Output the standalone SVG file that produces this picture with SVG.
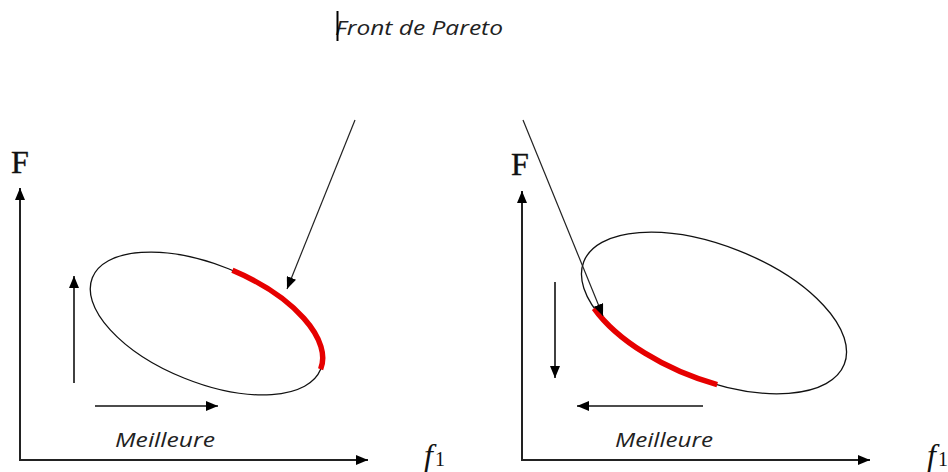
<svg xmlns="http://www.w3.org/2000/svg" width="948" height="472" viewBox="0 0 948 472">
<defs>
<marker id="ah" viewBox="0 0 12 10" refX="12" refY="5" markerWidth="12" markerHeight="10" markerUnits="userSpaceOnUse" orient="auto">
<path d="M0,0 L12,5 L0,10 Z" fill="#000"/>
</marker>
<style>
.ax{stroke:#222;stroke-width:2;fill:none}
.ar{stroke:#111;stroke-width:1.6;fill:none}
.ptr{stroke:#222;stroke-width:1.2;fill:none}
.ell{stroke:#111;stroke-width:1.3;fill:none}
.red{stroke:#e60000;stroke-width:5.5;fill:none;stroke-linecap:butt}
.lbl{font-family:"Open Sans","Liberation Sans",sans-serif;font-style:italic;font-size:20px;fill:#222}
.F{font-family:"Liberation Serif","DejaVu Serif",serif;font-size:32px;fill:#111;stroke:#111;stroke-width:0.4}
.f{font-family:"Liberation Serif","DejaVu Serif",serif;font-style:italic;font-size:32px;fill:#111}
.sub{font-family:"Liberation Serif","DejaVu Serif",serif;font-style:normal;font-size:20px;fill:#111}
</style>
</defs>
<rect width="948" height="472" fill="#fff"/>

<g id="title">
<text class="lbl" x="335" y="35" textLength="168" lengthAdjust="spacingAndGlyphs">Front de Pareto</text>
<line x1="337.5" y1="11" x2="337.5" y2="41" stroke="#000" stroke-width="2"/>
</g>

<g id="left-chart">
<g id="left-ellipse">
<ellipse class="ell" cx="206.5" cy="323.5" rx="123" ry="59" transform="rotate(21.85 206.5 323.5)"/>
<path class="red" d="M232.4 270.3 A123 59 21.85 0 1 320.6 369.3"/>
</g>
<g id="left-labels">
<text class="F" x="11" y="173">F</text>
<text class="f" x="424" y="466">f<tspan class="sub" dx="2">1</tspan></text>
<text class="lbl" x="115" y="447" textLength="100" lengthAdjust="spacingAndGlyphs">Meilleure</text>
</g>
</g>

<g id="right-chart">
<g id="right-ellipse">
<ellipse class="ell" cx="714" cy="313" rx="140" ry="67" transform="rotate(21.5 714 313)"/>
<path class="red" d="M594.1 308.3 A140 67 21.5 0 0 717.2 384.6"/>
</g>
<g id="right-labels">
<text class="F" x="511" y="175">F</text>
<text class="f" x="927" y="466">f<tspan class="sub" dx="2">1</tspan></text>
<text class="lbl" x="615" y="447" textLength="98" lengthAdjust="spacingAndGlyphs">Meilleure</text>
</g>
</g>

<g id="connectors">
<line class="ax" x1="20" y1="460" x2="20" y2="188" marker-end="url(#ah)"/>
<line class="ax" x1="19" y1="460" x2="368" y2="460" marker-end="url(#ah)"/>
<line class="ax" x1="522" y1="460" x2="522" y2="191" marker-end="url(#ah)"/>
<line class="ax" x1="521" y1="460" x2="870" y2="460" marker-end="url(#ah)"/>
<line class="ar" x1="74" y1="383" x2="74" y2="276" marker-end="url(#ah)"/>
<line class="ar" x1="95" y1="406" x2="218" y2="406" marker-end="url(#ah)"/>
<line class="ar" x1="555" y1="282" x2="555" y2="378" marker-end="url(#ah)"/>
<line class="ar" x1="703" y1="406" x2="577" y2="406" marker-end="url(#ah)"/>
<line class="ptr" x1="355" y1="120" x2="287" y2="289" marker-end="url(#ah)"/>
<line class="ptr" x1="523" y1="120" x2="603" y2="316" marker-end="url(#ah)"/>
</g>
</svg>
